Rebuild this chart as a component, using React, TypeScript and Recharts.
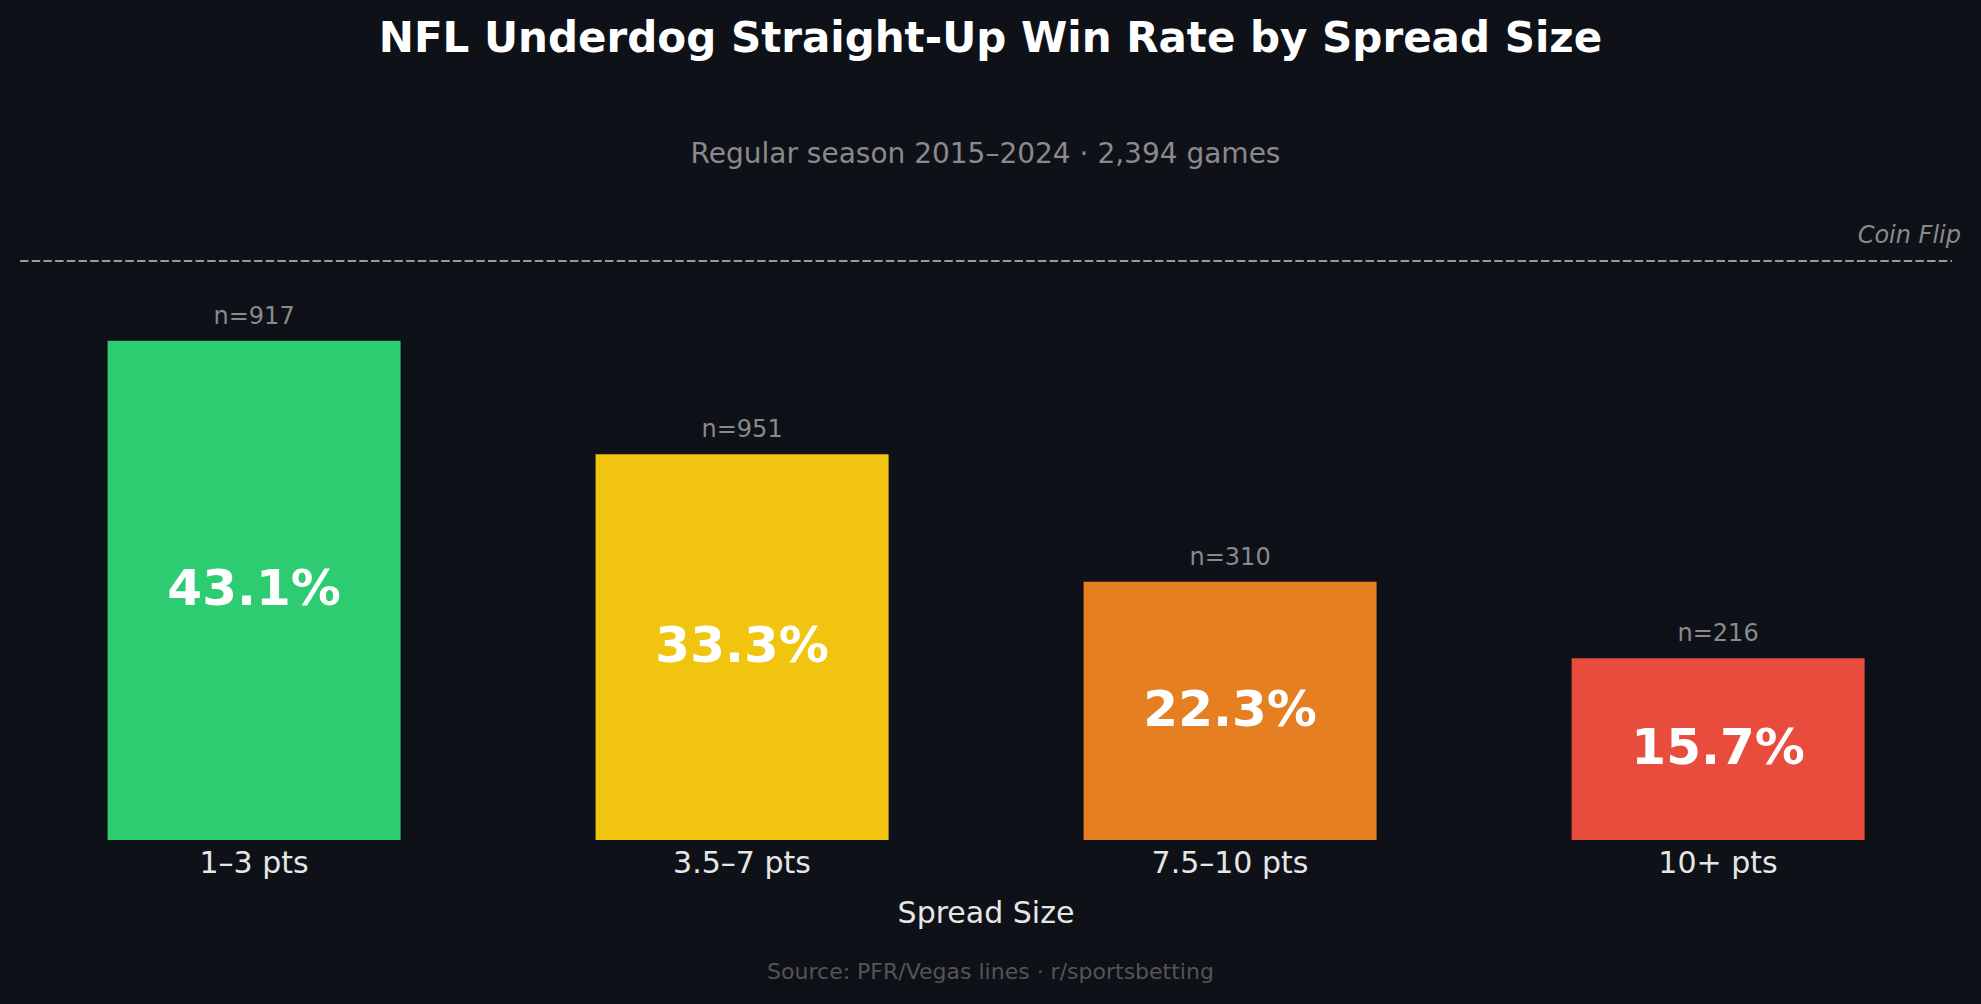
import { BarChart, Bar, XAxis, YAxis, Cell, LabelList, ReferenceLine } from 'recharts';

const spreadBuckets = ['1–3 pts', '3.5–7 pts', '7.5–10 pts', '10+ pts'];
const winRates = [43.1, 33.3, 22.3, 15.7];
const gameCounts = [917, 951, 310, 216];
const coinFlip = 50;

const barColors = ['#2ecc71', '#f1c40f', '#e67e22', '#e74c3c'];
const FONT = '"DejaVu Sans", sans-serif';

const data = spreadBuckets.map((bucket, i) => ({
  bucket,
  rate: winRates[i],
  n: gameCounts[i],
}));

// dashed 50% line, inset a little from the plot edges like the original
const CoinFlipLine = (props: any) => (
  <line
    x1={props.x1 + 10}
    y1={props.y1}
    x2={props.x2 - 10}
    y2={props.y2}
    stroke="#9a9a9a"
    strokeWidth={2}
    strokeDasharray="8.5 3.2"
  />
);

const CoinFlipLabel = ({ viewBox }: any) => (
  <text
    x={viewBox.x + viewBox.width - 1}
    y={viewBox.y - 18}
    textAnchor="end"
    fill="#8a8a8a"
    fontSize={24}
    fontStyle="italic"
    fontFamily={FONT}
  >
    Coin Flip
  </text>
);

const AxisTitle = ({ viewBox }: any) => (
  <text
    x={viewBox.x + viewBox.width / 2}
    y={viewBox.y + 83}
    textAnchor="middle"
    fill="#e6e6e6"
    fontSize={30}
    fontFamily={FONT}
  >
    Spread Size
  </text>
);

const RateLabel = (props: any) => {
  const { x, y, width, height, value } = props;
  return (
    <text
      x={x + width / 2}
      y={y + height / 2 + 15}
      textAnchor="middle"
      fill="#ffffff"
      fontSize={50}
      fontWeight="bold"
      fontFamily={FONT}
    >
      {`${value}%`}
    </text>
  );
};

export default function App() {
  return (
    <div
      style={{
        position: 'fixed',
        left: 0,
        top: 0,
        width: 1981,
        height: 1004,
        background: '#0e1117',
        fontFamily: FONT,
      }}
    >
      <div
        style={{
          position: 'absolute',
          top: 17,
          width: 1981,
          textAlign: 'center',
          color: '#ffffff',
          fontSize: 42,
          fontWeight: 'bold',
          lineHeight: 1,
        }}
      >
        NFL Underdog Straight-Up Win Rate by Spread Size
      </div>
      <div
        style={{
          position: 'absolute',
          top: 140,
          left: -5,
          width: 1981,
          textAlign: 'center',
          color: '#8a8a8a',
          fontSize: 28,
          lineHeight: 1,
        }}
      >
        Regular season 2015–2024 · 2,394 games
      </div>

      <BarChart
        width={1981}
        height={1004}
        data={data}
        margin={{ top: 203, right: 19, bottom: 104, left: 10 }}
        barCategoryGap="20%"
      >
        <XAxis
          dataKey="bucket"
          height={60}
          axisLine={false}
          tickLine={false}
          tickSize={0}
          tickMargin={12}
          tick={{ fill: '#e6e6e6', fontSize: 30, fontFamily: FONT }}
          interval={0}
          label={<AxisTitle />}
        />
        <YAxis hide domain={[0, 55]} />
        <ReferenceLine
          y={coinFlip}
          shape={CoinFlipLine}
          label={<CoinFlipLabel />}
        />
        <Bar dataKey="rate" isAnimationActive={false}>
          {data.map((d, i) => (
            <Cell key={d.bucket} fill={barColors[i]} />
          ))}
          <LabelList dataKey="rate" content={<RateLabel />} />
          <LabelList
            dataKey="n"
            position="top"
            offset={17}
            formatter={(v: any) => `n=${v}`}
            fill="#8a8a8a"
            fontSize={24}
            fontFamily={FONT}
          />
        </Bar>
      </BarChart>

      <div
        style={{
          position: 'absolute',
          top: 961,
          width: 1981,
          textAlign: 'center',
          color: '#555555',
          fontSize: 22,
          lineHeight: 1,
        }}
      >
        Source: PFR/Vegas lines · r/sportsbetting
      </div>
    </div>
  );
}
